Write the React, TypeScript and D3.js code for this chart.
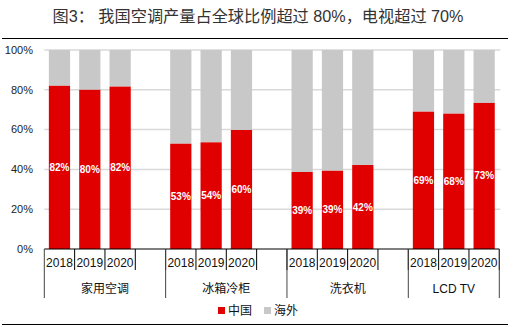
import React from "react";
import * as d3 from "d3";

const groups = ["家用空调", "冰箱冷柜", "洗衣机", "LCD TV"];
const years = ["2018", "2019", "2020"];
const chinaShare = [
  [82, 80, 81.6],
  [52.9, 53.6, 59.8],
  [38.7, 39.3, 42.2],
  [69, 68, 73.4],
];
const chinaLabels = [
  ["82%", "80%", "82%"],
  ["53%", "54%", "60%"],
  ["39%", "39%", "42%"],
  ["69%", "68%", "73%"],
];
const yTicks = [0, 20, 40, 60, 80, 100];
const title = "图3： 我国空调产量占全球比例超过 80%，电视超过 70%";
const legendItems = ["中国", "海外"];

const W = 518;
const H = 327;
const RED = "#e00000";
const GRAY = "#c8c8c8";
const CJK = "'Liberation Sans', 'Noto Sans CJK SC', Arial, sans-serif";

export default function App() {
  const left = 44.3;
  const right = 499.3;
  const top = 50;
  const bottom = 249;

  const slots: { key: string; g: number; y: number }[] = [];
  groups.forEach((_, gi) => {
    years.forEach((_, yi) => slots.push({ key: `${gi}-${yi}`, g: gi, y: yi }));
    if (gi < groups.length - 1) slots.push({ key: `${gi}-blank`, g: gi, y: -1 });
  });

  const x = d3
    .scaleBand<string>()
    .domain(slots.map((s) => s.key))
    .range([left, right])
    .paddingInner(0);
  const y = d3.scaleLinear().domain([0, 100]).range([bottom, top]);
  const bw = x.bandwidth() * 0.7;

  const groupStart = (gi: number) => x(`${gi}-0`)!;
  const groupEnd = (gi: number) =>
    gi < groups.length - 1 ? x(`${gi}-blank`)! + x.bandwidth() : x(`${gi}-2`)! + x.bandwidth();

  return (
    <svg
      width={W}
      height={H}
      style={{ position: "absolute", left: 0, top: 0, background: "#fff" }}
      fontFamily={CJK}
    >
      <text x={258} y={21.5} textAnchor="middle" fontSize={16.2} fill="#333">
        {title}
      </text>
      <line x1={2} x2={508} y1={38.5} y2={38.5} stroke="#000" strokeWidth={1.2} />

      {yTicks.map((t) => (
        <g key={t}>
          {t > 0 && (
            <line x1={left} x2={right + 1} y1={y(t)} y2={y(t)} stroke="#d9d9d9" strokeWidth={1.5} />
          )}
          <text x={33} y={y(t)} dy="0.35em" textAnchor="end" fontSize={11} fill="#222">
            {t}%
          </text>
        </g>
      ))}

      {groups.map((g, gi) =>
        years.map((yr, yi) => {
          const key = `${gi}-${yi}`;
          const v = chinaShare[gi][yi];
          const bx = x(key)! + (x.bandwidth() - bw) / 2;
          return (
            <g key={key}>
              <rect x={bx} y={y(100)} width={bw} height={y(v) - y(100)} fill={GRAY} />
              <rect x={bx} y={y(v)} width={bw} height={y(0) - y(v)} fill={RED} />
              <text
                x={bx + bw / 2}
                y={y(v / 2)}
                dy="0.35em"
                textAnchor="middle"
                fontSize={10}
                fontWeight="bold"
                fill="#fff"
              >
                {chinaLabels[gi][yi]}
              </text>
            </g>
          );
        })
      )}

      <line x1={left} x2={right} y1={bottom} y2={bottom} stroke="#000" strokeWidth={1} />

      {slots.map((s) => {
        const sx = x(s.key)!;
        return (
          <g key={s.key}>
            <line x1={sx + x.bandwidth()} x2={sx + x.bandwidth()} y1={bottom} y2={270} stroke="#000" />
            {s.y >= 0 && (
              <text
                x={sx + x.bandwidth() / 2}
                y={263}
                dy="0.35em"
                textAnchor="middle"
                fontSize={12}
                fill="#111"
              >
                {years[s.y]}
              </text>
            )}
          </g>
        );
      })}

      {groups.map((g, gi) => {
        const gs = groupStart(gi);
        const ge = groupEnd(gi);
        return (
          <g key={g}>
            <line x1={gs} x2={gs} y1={bottom} y2={298} stroke="#444" />
            {gi === groups.length - 1 && <line x1={ge} x2={ge} y1={bottom} y2={298} stroke="#444" />}
            <text x={(gs + ge) / 2} y={288.5} dy="0.35em" textAnchor="middle" fontSize={12} fill="#111">
              {g}
            </text>
          </g>
        );
      })}

      {legendItems.map((l, i) => {
        const lx = [218, 264][i];
        return (
          <g key={l}>
            <rect x={lx} y={307} width={7} height={7} fill={i === 0 ? RED : GRAY} />
            <text x={lx + 10} y={310.5} dy="0.35em" fontSize={12} fill="#111">
              {l}
            </text>
          </g>
        );
      })}

      <line x1={2} x2={508} y1={324.5} y2={324.5} stroke="#000" strokeWidth={1.2} />
    </svg>
  );
}
